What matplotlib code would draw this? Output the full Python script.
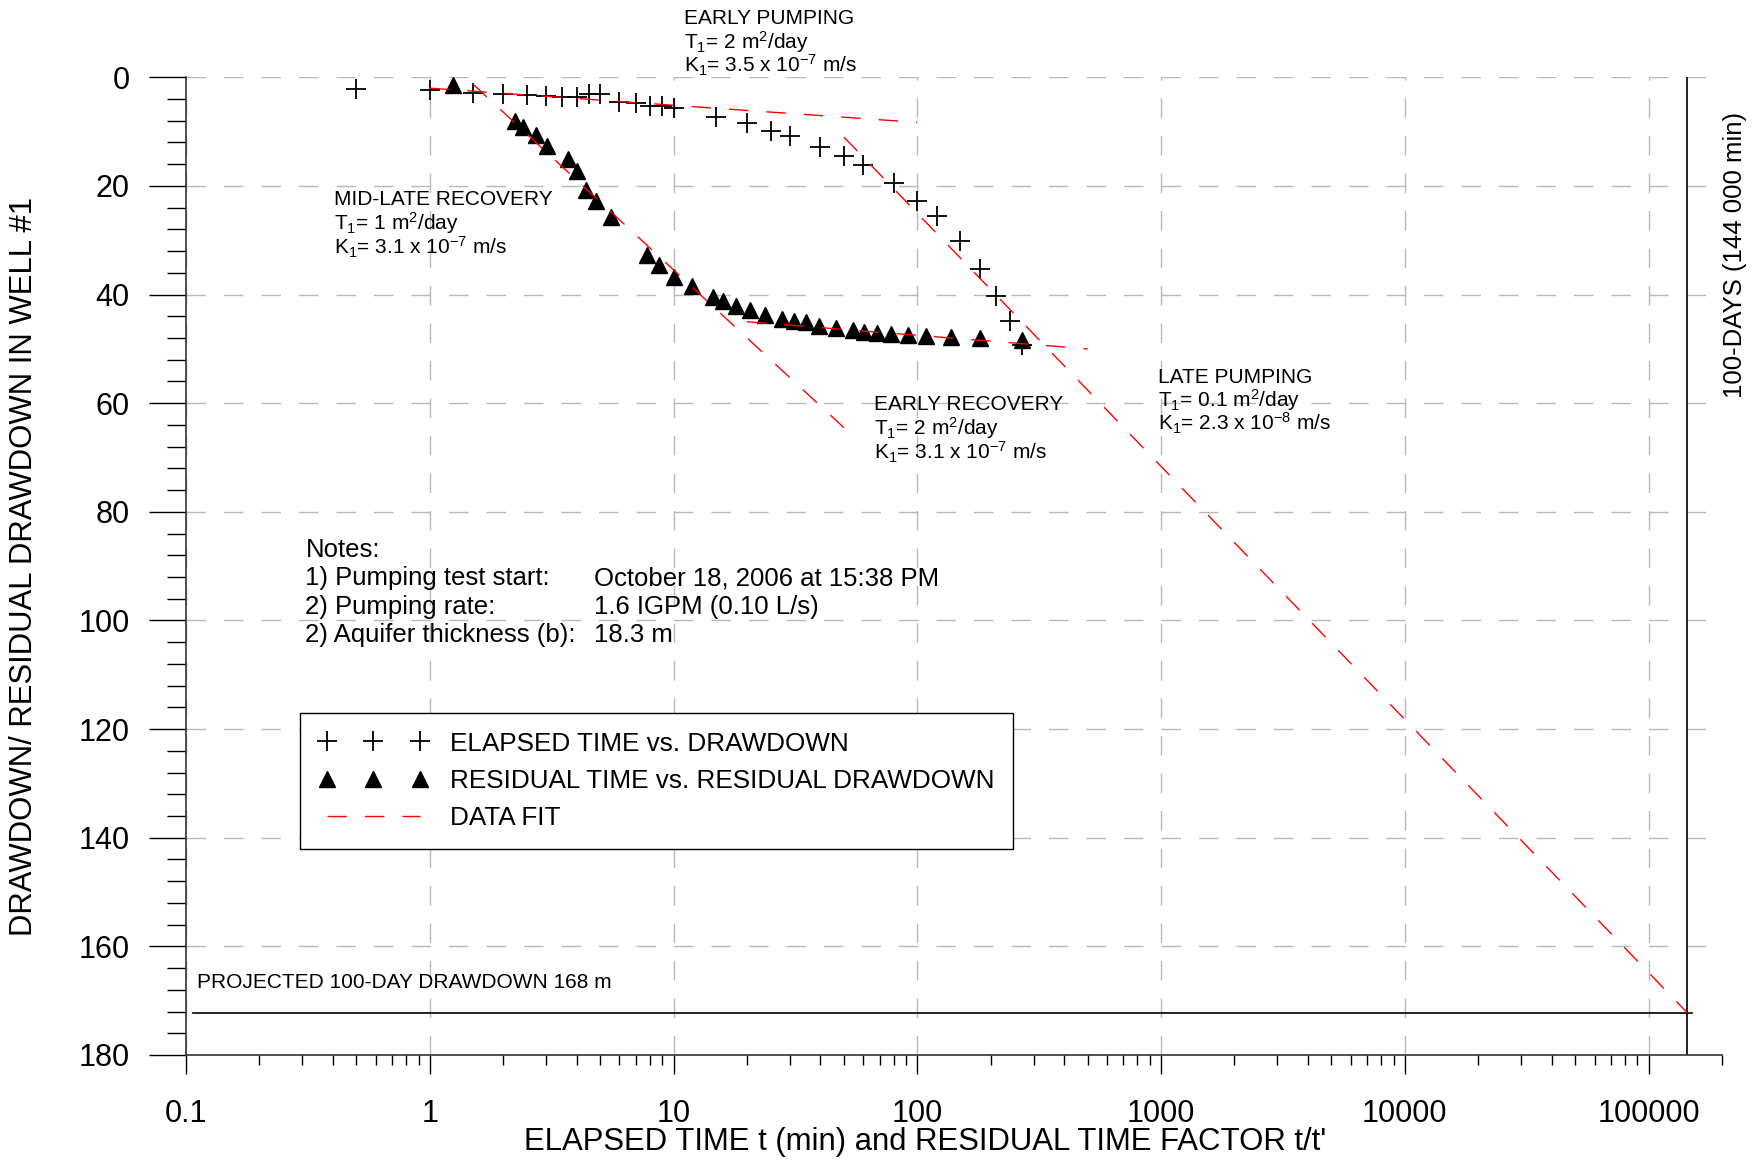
"""Pumping test analysis: drawdown and residual drawdown vs. time (Cooper-Jacob)"""

import numpy as np
import matplotlib
matplotlib.use('Agg')
import matplotlib.pyplot as plt

plt.rcParams['font.family'] = ['Liberation Sans', 'DejaVu Sans']
plt.rcParams['mathtext.fontset'] = 'custom'
plt.rcParams['mathtext.rm'] = 'Liberation Sans'
plt.rcParams['mathtext.it'] = 'Liberation Sans:italic'
plt.rcParams['mathtext.bf'] = 'Liberation Sans:bold'

# Elapsed time t (min) vs. drawdown (m)
pump_time = [0.5, 1.0, 1.5, 2.0, 2.5, 3.0, 3.5, 4.0, 4.5, 5.0, 6.0, 7.0, 8.0, 9.0, 10.0,
             15.0, 20.0, 25.0, 30.0, 40.0, 50.0, 60.0, 80.0,
             100.0, 120.0, 150.0, 180.0, 210.0, 240.0, 270.0]
pump_drawdown = [2.1, 2.3, 2.8, 3.1, 3.2, 3.4, 3.6, 3.7, 3.0, 3.1, 4.5, 4.8, 5.2, 5.3, 5.7,
                 7.4, 8.5, 9.9, 10.8, 12.8, 14.4, 16.1, 19.5,
                 22.8, 25.6, 30.1, 35.3, 40.3, 44.8, 49.2]

# Residual time factor t/t' vs. residual drawdown (m)
recov_ratio = [1.24, 2.23, 2.42, 2.72, 3.04, 3.70, 4.03, 4.36, 4.81, 5.54, 7.8, 8.7, 10.0,
               11.9, 14.5, 16.0, 18.0, 20.5, 23.7, 27.9, 31.2, 34.9, 39.5, 46.2, 54.6,
               60.4, 68.1, 78.0, 91.3, 109.0, 137.0, 181.0, 270.0]
recov_drawdown = [1.4, 8.0, 9.1, 10.6, 12.6, 15.0, 17.2, 20.7, 22.8, 25.8, 32.7, 34.5, 36.7,
                  38.5, 40.4, 41.2, 42.1, 42.8, 43.7, 44.5, 44.8, 45.1, 45.8, 46.2, 46.6,
                  46.8, 47.0, 47.2, 47.4, 47.6, 47.8, 48.0, 48.3]

# Straight-line fits: (t start, s start, t end, s end)
fit_early_pumping = (1.0, 2.0, 100.0, 8.3)
fit_midlate_recovery = (1.5, 1.2, 50.0, 64.5)
fit_early_recovery = (20.0, 45.0, 500.0, 50.0)
fit_late_pumping = (50.0, 11.0, 144000.0, 172.2)

t_100_days = 144000.0          # minutes
s_projected = 172.2            # drawdown read at 100 days

DASH = (0, (14, 13))

fig = plt.figure(figsize=(17.54, 11.60), dpi=100)
ax = fig.add_axes([186 / 1754, 1 - 1055 / 1160, 1536 / 1754, 977.7 / 1160])

ax.set_xscale('log')
ax.set_xlim(0.1, 2e5)
ax.set_ylim(180, 0)

ax.grid(True, which='major', color='#b8b8b8', linestyle=DASH, linewidth=1.0, zorder=0)

ax.plot(pump_time, pump_drawdown, ls='none', marker='+', ms=15, mew=1.3,
        color='black', label='ELAPSED TIME vs. DRAWDOWN', zorder=3)
ax.plot(recov_ratio, recov_drawdown, ls='none', marker='^', ms=12,
        color='black', label='RESIDUAL TIME vs. RESIDUAL DRAWDOWN', zorder=3)

fits = [fit_early_pumping, fit_midlate_recovery, fit_early_recovery, fit_late_pumping]
for i, (t0, s0, t1, s1) in enumerate(fits):
    ax.plot([t0, t1], [s0, s1], color='red', lw=1.0, linestyle=DASH, zorder=4,
            label='DATA FIT' if i == 0 else None)

# 100-day reference lines
ax.axvline(t_100_days, color='black', lw=1.2, zorder=2)
ax.plot([0.107, 150000], [s_projected, s_projected], color='black', lw=1.2, zorder=2)
ax.text(0.1106, 167.6, 'PROJECTED 100-DAY DRAWDOWN 168 m', fontsize=15, va='baseline')
ax.text(226000, 32.7, '100-DAYS (144 000 min)', fontsize=18.5, rotation=90,
        ha='center', va='center', clip_on=False)


def text_block(x, y0, lines, dy, size):
    for k, line in enumerate(lines):
        ax.text(x, y0 + k * dy, line, fontsize=size, va='baseline', clip_on=False)


text_block(11.0, -9.8, ['EARLY PUMPING', r'T$_1$= 2 m$^2$/day',
                        r'K$_1$= 3.5 x 10$^{-7}$ m/s'], 4.5, 15)
text_block(0.406, 23.6, ['MID-LATE RECOVERY', r'T$_1$= 1 m$^2$/day',
                         r'K$_1$= 3.1 x 10$^{-7}$ m/s'], 4.55, 15)
text_block(66.5, 61.3, ['EARLY RECOVERY', r'T$_1$= 2 m$^2$/day',
                        r'K$_1$= 3.1 x 10$^{-7}$ m/s'], 4.55, 15)
text_block(973, 56.2, ['LATE PUMPING', r'T$_1$= 0.1 m$^2$/day',
                       r'K$_1$= 2.3 x 10$^{-8}$ m/s'], 4.4, 15)

text_block(0.309, 88.3, ['Notes:', '1) Pumping test start:', '2) Pumping rate:',
                         '2) Aquifer thickness (b):'], 5.23, 18.5)
text_block(4.72, 93.5, ['October 18, 2006 at 15:38 PM', '1.6 IGPM (0.10 L/s)',
                        '18.3 m'], 5.23, 18.5)

# axes styling
for side in ('top', 'right'):
    ax.spines[side].set_visible(False)
for side in ('left', 'bottom'):
    ax.spines[side].set_linewidth(1.2)
    ax.spines[side].set_color('#333333')

ax.set_yticks(np.arange(0, 181, 20))
ax.set_yticks(np.arange(0, 181, 4), minor=True)
ax.set_xticks([0.1, 1, 10, 100, 1000, 10000, 100000])
ax.set_xticklabels(['0.1', '1', '10', '100', '1000', '10000', '100000'])
ax.xaxis.set_minor_locator(matplotlib.ticker.LogLocator(base=10, subs=np.arange(2, 10)))
ax.xaxis.set_minor_formatter(matplotlib.ticker.NullFormatter())

ax.tick_params(axis='y', which='major', length=26.6, width=1, pad=14, labelsize=22)
ax.tick_params(axis='y', which='minor', length=13.7, width=1)
ax.tick_params(axis='x', which='major', length=13.7, width=1, pad=18, labelsize=22)
ax.tick_params(axis='x', which='minor', length=7.2, width=1)

ax.set_xlabel("ELAPSED TIME t (min) and RESIDUAL TIME FACTOR t/t'", fontsize=22.4)
ax.set_ylabel('DRAWDOWN/ RESIDUAL DRAWDOWN IN WELL #1', fontsize=22.4)
ax.xaxis.set_label_coords(0.481, -0.074)
ax.yaxis.set_label_coords(-0.0957, 0.5)

leg = ax.legend(loc='upper left', bbox_to_anchor=(0.0742, 0.350), borderaxespad=0,
                numpoints=3, handlelength=4.17, handletextpad=0.86, borderpad=0.72,
                labelspacing=0.5, fontsize=18.8, fancybox=False, framealpha=1,
                edgecolor='black')
leg.get_frame().set_linewidth(1.0)

fig.savefig('out.png', dpi=100)
